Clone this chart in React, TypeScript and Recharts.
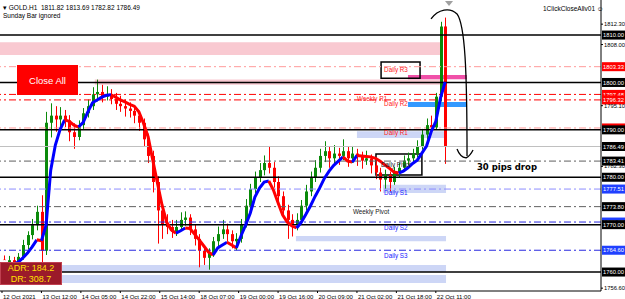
import React from 'react'
import {
  ComposedChart,
  Bar,
  Line,
  XAxis,
  YAxis,
  ReferenceLine,
  ReferenceArea,
  ReferenceDot,
} from 'recharts'

// 2-hour candles, GOLD H1 chart 12-22 Oct 2021
const opens = [1762.6, 1761.8, 1762.5, 1761.5, 1763.2, 1765.7, 1767.8, 1769.9, 1772.7, 1764.5,
  1791.5, 1793.0, 1792.2, 1793.0, 1792.0, 1789.5, 1788.5, 1791.0, 1793.5, 1795.0,
  1797.5, 1798.0, 1797.0, 1797.5, 1796.5, 1795.5, 1795.0, 1794.5, 1794.0, 1793.0,
  1791.5, 1788.0, 1784.5, 1779.0, 1773.0, 1770.0, 1769.5, 1768.5, 1769.5, 1771.0,
  1771.5, 1769.0, 1767.0, 1764.5, 1763.0, 1764.0, 1766.5, 1768.0, 1769.0, 1768.0,
  1766.5, 1767.0, 1770.0, 1774.0, 1777.5, 1780.0, 1781.5, 1783.0, 1782.0, 1779.0,
  1776.0, 1773.0, 1771.0, 1770.0, 1771.0, 1774.0, 1777.0, 1780.0, 1782.0, 1784.5,
  1785.5, 1784.0, 1785.0, 1784.5, 1785.5, 1784.0, 1785.0, 1784.5, 1783.5, 1784.0,
  1782.5, 1781.0, 1779.5, 1780.5, 1779.0, 1781.0, 1782.0, 1783.5, 1784.0, 1785.0,
  1786.5, 1789.0, 1791.0, 1790.5, 1797.0, 1811.82]
const highs = [1763.5, 1763.4, 1763.2, 1764.0, 1766.8, 1768.6, 1771.2, 1774.0, 1776.2, 1793.8,
  1795.6, 1795.0, 1794.8, 1794.2, 1793.1, 1791.4, 1792.0, 1794.6, 1796.4, 1799.0,
  1800.6, 1799.5, 1799.2, 1798.6, 1797.8, 1797.2, 1796.4, 1795.8, 1795.2, 1794.0,
  1792.4, 1789.2, 1785.6, 1780.2, 1774.6, 1772.2, 1771.0, 1771.0, 1772.6, 1772.8,
  1772.2, 1770.0, 1768.0, 1765.4, 1765.0, 1767.4, 1769.6, 1771.0, 1770.2, 1768.8,
  1768.2, 1771.2, 1775.4, 1778.6, 1781.2, 1783.0, 1784.6, 1786.6, 1783.2, 1780.2,
  1777.0, 1774.2, 1772.2, 1772.4, 1775.2, 1778.4, 1781.2, 1783.6, 1786.0, 1787.6,
  1786.6, 1786.8, 1786.2, 1788.0, 1786.4, 1786.6, 1786.0, 1785.4, 1785.6, 1784.8,
  1783.4, 1782.0, 1781.6, 1781.2, 1782.2, 1783.0, 1784.6, 1785.2, 1786.0, 1787.8,
  1790.2, 1792.4, 1793.0, 1797.8, 1812.8, 1813.69]
const lows = [1760.8, 1760.9, 1760.2, 1761.0, 1762.6, 1764.8, 1766.9, 1768.8, 1762.0, 1763.6,
  1788.4, 1789.6, 1790.4, 1790.6, 1787.6, 1786.0, 1787.8, 1790.2, 1792.6, 1794.2,
  1796.0, 1795.8, 1796.2, 1795.4, 1794.2, 1793.8, 1792.8, 1792.6, 1791.4, 1789.8,
  1786.6, 1783.0, 1776.8, 1766.0, 1767.0, 1768.0, 1767.2, 1767.6, 1768.8, 1769.8,
  1767.8, 1765.6, 1761.0, 1761.5, 1760.5, 1763.2, 1765.4, 1767.0, 1766.4, 1765.0,
  1764.6, 1766.2, 1769.4, 1773.2, 1776.6, 1779.0, 1780.4, 1780.8, 1777.8, 1774.6,
  1771.4, 1767.0, 1767.5, 1768.8, 1770.2, 1773.0, 1776.0, 1779.0, 1781.0, 1783.2,
  1782.0, 1783.0, 1782.6, 1783.6, 1782.2, 1783.0, 1782.4, 1781.8, 1782.6, 1780.8,
  1779.6, 1777.0, 1777.5, 1777.0, 1778.4, 1780.0, 1781.2, 1782.6, 1783.0, 1784.2,
  1785.8, 1788.0, 1789.2, 1790.0, 1796.0, 1782.82]
const closes = [1761.8, 1762.5, 1761.5, 1763.2, 1765.7, 1767.8, 1769.9, 1772.7, 1764.5, 1791.5,
  1793.0, 1792.2, 1793.0, 1792.0, 1789.5, 1788.5, 1791.0, 1793.5, 1795.0, 1797.5,
  1798.0, 1797.0, 1797.5, 1796.5, 1795.5, 1795.0, 1794.5, 1794.0, 1793.0, 1791.5,
  1788.0, 1784.5, 1779.0, 1773.0, 1770.0, 1769.5, 1768.5, 1769.5, 1771.0, 1771.5,
  1769.0, 1767.0, 1764.5, 1763.0, 1764.0, 1766.5, 1768.0, 1769.0, 1768.0, 1766.5,
  1767.0, 1770.0, 1774.0, 1777.5, 1780.0, 1781.5, 1783.0, 1782.0, 1779.0, 1776.0,
  1773.0, 1771.0, 1770.0, 1771.0, 1774.0, 1777.0, 1780.0, 1782.0, 1784.5, 1785.5,
  1784.0, 1785.0, 1784.5, 1785.5, 1784.0, 1785.0, 1784.5, 1783.5, 1784.0, 1782.5,
  1781.0, 1779.5, 1780.5, 1779.0, 1781.0, 1782.0, 1783.5, 1784.0, 1785.0, 1786.5,
  1789.0, 1791.0, 1790.5, 1797.0, 1811.8, 1786.49]
// moving average, blue while rising, red while falling
const maLine = [1761.5, 1761.5, 1761.7, 1762.1, 1763.0, 1764.0, 1765.3, 1766.8, 1766.6, 1769.9,
  1781.5, 1786.8, 1790.0, 1792.1, 1791.8, 1791.0, 1790.6, 1791.6, 1793.8, 1795.7,
  1796.3, 1796.9, 1797.3, 1797.4, 1796.9, 1796.3, 1795.9, 1795.4, 1795.0, 1793.8,
  1791.4, 1788.5, 1783.6, 1778.8, 1774.1, 1770.5, 1768.9, 1768.2, 1768.7, 1769.3,
  1769.2, 1768.0, 1766.8, 1765.5, 1764.2, 1763.6, 1765.1, 1765.7, 1766.3, 1765.7,
  1765.1, 1767.6, 1769.9, 1772.4, 1775.8, 1777.7, 1779.0, 1779.2, 1777.3, 1774.6,
  1772.0, 1770.5, 1769.7, 1769.3, 1770.5, 1772.2, 1774.0, 1776.0, 1777.8, 1779.8,
  1781.3, 1782.5, 1783.4, 1784.3, 1783.4, 1783.2, 1784.6, 1784.5, 1784.4, 1784.3,
  1784.0, 1783.4, 1782.6, 1781.9, 1781.1, 1780.9, 1781.3, 1782.0, 1782.9, 1783.6,
  1785.1, 1786.6, 1789.6, 1791.8, 1796.7, 1800.1]

const hours = closes.map((_, i) => 1 + 2 * i)

const tickHours = [0, 17, 34, 51, 68, 85, 102, 119, 136, 153, 170, 187]
const timeLabels = ['12 Oct 2021', '13 Oct 12:00', '14 Oct 05:00', '14 Oct 22:00', '15 Oct 14:00', '18 Oct 07:00',
  '19 Oct 00:00', '19 Oct 16:00', '20 Oct 09:00', '21 Oct 02:00', '21 Oct 18:00', '22 Oct 11:00']
const priceTicks = [1812.3, 1808.0, 1795.1, 1782.3, 1756.6]

const roundLevels = [1810, 1800, 1790, 1780, 1770, 1760]
const resistLevels = [1803.33, 1797.48, 1796.32, 1790.4]
const supportLevels = [1777.51, 1770.55, 1764.6]
const pivotLevels = [1783.41, 1773.8]
const lastPrice = 1786.49

const pivotNames = ['Daily R3', 'Weekly R1', 'Daily R2', 'Daily R1', 'Daily Pivot', 'Daily S1', 'Weekly Pivot', 'Daily S2', 'Daily S3']
const pivotNameHours = [164.7, 153, 164.7, 164.7, 163.4, 164.7, 151.3, 164.7, 164.7]
const pivotNamePrices = [1802.6, 1796.5, 1795.4, 1789.3, 1782.6, 1776.7, 1772.7, 1769.3, 1763.4]
const pivotNameColors = ['#ff2020', '#ff2020', '#ff2020', '#ff2020', '#202020', '#2020ff', '#202020', '#2020ff', '#2020ff']

const FONT = 'Liberation Sans, Arial, sans-serif'

const runs: { up: boolean; from: number; to: number }[] = []
for (let i = 1; i < maLine.length; i++) {
  const up = maLine[i] >= maLine[i - 1]
  const last = runs[runs.length - 1]
  if (last && last.up === up) last.to = i
  else runs.push({ up, from: i - 1, to: i })
}

const rows = hours.map((h, i) => {
  const row: Record<string, number | null> = { h, o: opens[i], hi: highs[i], lo: lows[i], c: closes[i] }
  runs.forEach((r, k) => {
    row['ma' + k] = i >= r.from && i <= r.to ? maLine[i] : null
  })
  return row
})

const Candle = (props: any) => {
  const { x, y, width, height, payload } = props
  if (payload == null || height == null) return null
  const { o, c, hi, lo } = payload
  const top = Math.min(y, y + height)
  const h = Math.abs(height)
  const k = h / Math.max(hi - lo, 0.0001)
  const yO = top + (hi - o) * k
  const yC = top + (hi - c) * k
  const cx = Math.round(x + width / 2) + 0.5
  const color = c >= o ? '#0a8a0a' : '#ff0000'
  return (
    <g>
      <line x1={cx} x2={cx} y1={top} y2={top + h} stroke={color} strokeWidth={1} />
      <rect x={cx - 1.5} y={Math.min(yO, yC)} width={3} height={Math.max(Math.abs(yO - yC), 1)} fill={color} />
    </g>
  )
}

const PriceTag = (props: any) => {
  const { viewBox, bg, fg, text } = props
  if (!viewBox) return null
  const left = viewBox.x + viewBox.width + 1
  return (
    <g>
      <rect x={left} y={viewBox.y - 4.5} width={23} height={9} fill={bg} />
      <text x={left + 1} y={viewBox.y + 2.1} fontSize={5.8} fontFamily={FONT} fill={fg}>{text}</text>
    </g>
  )
}

const TimeTick = (props: any) => {
  const { x, y, payload } = props
  const idx = tickHours.indexOf(payload.value)
  return (
    <g>
      <line x1={x} x2={x} y1={y} y2={y + 2} stroke="#000" />
      <text x={x + 1} y={y + 7.5} fontSize={6} fontFamily={FONT} fill="#000">{timeLabels[idx]}</text>
    </g>
  )
}

const Swoosh = (props: any) => {
  const { cx, cy } = props
  return (
    <g>
      <polygon points={`${cx - 1},${cy - 9} ${cx + 7},${cy - 9} ${cx + 3},${cy - 4}`} fill="#a0a0a0" />
      <g fill="none" stroke="#000" strokeWidth={1.3}>
        <path d={`M${cx - 15},${cy + 9} C${cx - 8},${cy - 1} ${cx + 4},${cy - 3} ${cx + 11},${cy + 4} C${cx + 19},${cy + 15} ${cx + 21},${cy + 60} ${cx + 21},${cy + 146}`} />
        <path d={`M${cx + 11},${cy + 139} Q${cx + 14},${cy + 147} ${cx + 20},${cy + 148} Q${cx + 24},${cy + 146} ${cx + 27},${cy + 140}`} />
      </g>
    </g>
  )
}

const dashDot = '7 3 2 3'

export default function App() {
  return (
    <div style={{ position: 'absolute', left: 0, top: 0, width: 625, height: 299, background: '#fff', overflow: 'hidden' }}>
      <ComposedChart width={625} height={299} data={rows} margin={{ top: 0, right: 0, bottom: 0, left: 0 }}>
        <XAxis
          type="number"
          dataKey="h"
          domain={[-0.86, 258.2]}
          allowDataOverflow
          ticks={tickHours}
          interval={0}
          height={8}
          tickSize={0}
          tickMargin={0}
          tick={<TimeTick />}
          axisLine={{ stroke: '#000' }}
        />
        <YAxis
          orientation="right"
          domain={[1756.0, 1817.4]}
          allowDataOverflow
          ticks={priceTicks}
          interval={0}
          width={24}
          tickSize={2}
          tickMargin={1}
          tickFormatter={(v: number) => v.toFixed(2)}
          tick={{ fontSize: 5.8, fontFamily: FONT, fill: '#000' }}
          tickLine={{ stroke: '#000' }}
          axisLine={{ stroke: '#000' }}
        />

        <ReferenceArea x1={-0.86} x2={189} y1={1805.8} y2={1808.5} fill="#f9c9d1" fillOpacity={1} stroke="none" ifOverflow="visible" />
        <ReferenceArea x1={40} x2={191.4} y1={1799.5} y2={1800.6} fill="#f9c9d1" fillOpacity={1} stroke="none" />
        <ReferenceArea x1={153} x2={191.4} y1={1788.3} y2={1789.7} fill="#cdd6f6" fillOpacity={1} stroke="none" />
        <ReferenceArea x1={164.2} x2={191.4} y1={1776.7} y2={1778.4} fill="#cdd6f6" fillOpacity={1} stroke="none" />
        <ReferenceArea x1={126.7} x2={191.4} y1={1766.5} y2={1767.6} fill="#cdd6f6" fillOpacity={1} stroke="none" />
        <ReferenceArea x1={-0.86} x2={191.4} y1={1760.0} y2={1761.5} fill="#cdd6f6" fillOpacity={1} stroke="none" ifOverflow="visible" />
        <ReferenceArea x1={-0.86} x2={191.4} y1={1757.7} y2={1759.4} fill="#cdd6f6" fillOpacity={1} stroke="none" ifOverflow="visible" />

        {resistLevels.map((p, i) => (
          <ReferenceLine key={'r' + p} y={p} stroke={i === 0 || i === 3 ? '#ff9a9a' : '#ff0000'} strokeDasharray={dashDot}
            label={<PriceTag bg="#ff0000" fg="#fff" text={p.toFixed(2)} />} />
        ))}
        {supportLevels.map((p, i) => (
          <ReferenceLine key={'s' + p} y={p} stroke={i === 0 ? '#8c8cff' : '#2828e0'} strokeDasharray={dashDot}
            label={<PriceTag bg="#2040ff" fg="#fff" text={p.toFixed(2)} />} />
        ))}
        {pivotLevels.map((p) => (
          <ReferenceLine key={'p' + p} y={p} stroke="#606060" strokeDasharray={dashDot}
            label={<PriceTag bg="#000" fg="#fff" text={p.toFixed(2)} />} />
        ))}
        <ReferenceLine y={lastPrice} stroke="#c0c0c0" label={<PriceTag bg="#000" fg="#fff" text={lastPrice.toFixed(2)} />} />
        {roundLevels.map((p) => (
          <ReferenceLine key={'k' + p} y={p} stroke="#000" strokeWidth={1.5}
            label={<PriceTag bg="#000" fg="#fff" text={p.toFixed(2)} />} />
        ))}

        <ReferenceArea x1={175} x2={200.4} y1={1800.7} y2={1801.6} fill="#f050a8" fillOpacity={1} stroke="none" />
        <ReferenceArea x1={175} x2={200.4} y1={1794.8} y2={1795.9} fill="#3399ff" fillOpacity={1} stroke="none" />

        <Bar dataKey={(d: any) => [d.lo, d.hi]} shape={(p: any) => <Candle {...p} />} barSize={3} isAnimationActive={false} />
        {runs.map((r, k) => (
          <Line key={'ma' + k} dataKey={'ma' + k} stroke={r.up ? '#0000ff' : '#ff0000'} strokeWidth={3} dot={false}
            connectNulls={false} isAnimationActive={false} />
        ))}

        <ReferenceArea x1={163.4} x2={180.2} y1={1800.9} y2={1804.3} fill="none" stroke="#000" strokeWidth={1.5} />
        <ReferenceArea x1={161.2} x2={181} y1={1780.5} y2={1784.9} fill="none" stroke="#000" strokeWidth={1.5} />

        {pivotNames.map((name, i) => (
          <ReferenceDot key={name} x={pivotNameHours[i]} y={pivotNamePrices[i]} r={0} ifOverflow="visible"
            shape={(p: any) => (
              <text x={p.cx} y={p.cy + 2.2} fontSize={6.3} fontFamily={FONT} fill={pivotNameColors[i]}>{name}</text>
            )} />
        ))}
        <ReferenceDot x={204.7} y={1782.2} r={0} ifOverflow="visible"
          shape={(p: any) => (
            <text x={p.cx} y={p.cy + 3} fontSize={8.5} fontWeight="bold" fontFamily="DejaVu Sans, sans-serif" fill="#000">30 pips drop</text>
          )} />
        <ReferenceDot x={191.4} y={1815.3} r={0} ifOverflow="visible" shape={(p: any) => <Swoosh {...p} />} />
      </ComposedChart>

      <div style={{ position: 'absolute', left: 3, top: 4, fontSize: 6.5, fontFamily: FONT, whiteSpace: 'pre', lineHeight: '8px', color: '#000' }}>
        {'▾ GOLD.H1  1811.82 1813.69 1782.82 1786.49'}
        <br />
        {'Sunday Bar ignored'}
      </div>
      <div style={{ position: 'absolute', left: 543, top: 5, fontSize: 6.5, fontFamily: FONT, whiteSpace: 'pre', color: '#000', lineHeight: '8px' }}>
        {'1ClickCloseAllv01 ☺'}
      </div>
      <div style={{ position: 'absolute', left: 17, top: 65, width: 61, height: 30, background: '#ff0000', color: '#fff',
        fontSize: 9.5, fontFamily: FONT, display: 'flex', alignItems: 'center', justifyContent: 'center' }}>
        Close All
      </div>
      <div style={{ position: 'absolute', left: 0, top: 262, width: 62, height: 23, background: '#9b1a2a', border: '1px solid #c04050',
        boxSizing: 'border-box', color: '#ffe000', fontSize: 9, fontFamily: FONT, textAlign: 'center', lineHeight: '10.5px' }}>
        ADR: 184.2
        <br />
        DR: 308.7
      </div>
    </div>
  )
}
